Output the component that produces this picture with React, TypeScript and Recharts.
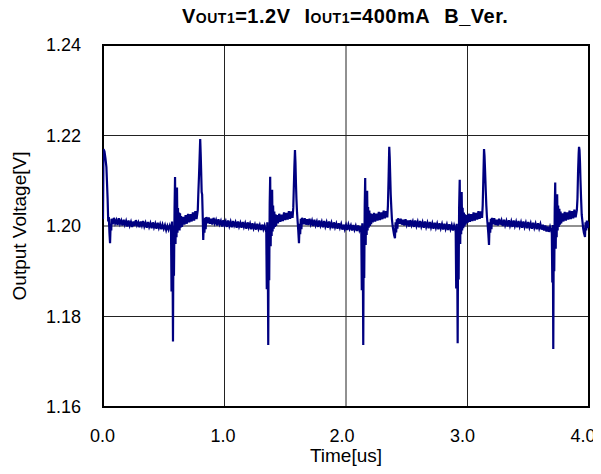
import { LineChart, Line, XAxis, YAxis, CartesianGrid, ReferenceArea, Label } from 'recharts';

type Pt = [number, number];

// time [us], output voltage [V]
const startTail: Pt[] = [
  [0.000, 1.2015], [0.004, 1.2170], [0.012, 1.2165], [0.020, 1.2150], [0.028, 1.2130],
  [0.033, 1.2095], [0.038, 1.2060], [0.043, 1.2010], [0.048, 1.2020], [0.053, 1.1985],
  [0.058, 1.1962], [0.063, 1.2005], [0.068, 1.1990],
];

const flatA: Pt[] = [
  [0.07, 1.2016], [0.08, 1.2004], [0.09, 1.2018], [0.10, 1.2006], [0.11, 1.2013], [0.12, 1.2002],
  [0.13, 1.2017], [0.14, 1.2005], [0.15, 1.2012], [0.16, 1.2001], [0.17, 1.2014], [0.18, 1.2003],
  [0.19, 1.2011], [0.20, 1.1999], [0.21, 1.2012], [0.22, 1.2001], [0.23, 1.2009], [0.24, 1.1998],
  [0.25, 1.2010], [0.26, 1.2000], [0.27, 1.2013], [0.28, 1.2002], [0.29, 1.2008], [0.30, 1.1997],
  [0.31, 1.2010], [0.32, 1.2001], [0.33, 1.2011], [0.34, 1.1999], [0.35, 1.2007], [0.36, 1.1996],
  [0.37, 1.2009], [0.38, 1.1998], [0.39, 1.2006], [0.40, 1.1995], [0.41, 1.2008], [0.42, 1.1997],
  [0.43, 1.2005], [0.44, 1.1994], [0.45, 1.2007], [0.46, 1.1996], [0.47, 1.2004], [0.48, 1.1993],
  [0.49, 1.2003], [0.50, 1.1994], [0.51, 1.2002], [0.52, 1.1991], [0.53, 1.2000], [0.54, 1.1992],
  [0.55, 1.2001], [0.56, 1.1993],
];

const burst1: Pt[] = [
  [0.560, 1.1988], [0.564, 1.1855], [0.568, 1.2010], [0.572, 1.1950], [0.576, 1.1745],
  [0.580, 1.2000], [0.584, 1.1890], [0.589, 1.2040], [0.593, 1.2108], [0.597, 1.1960],
  [0.601, 1.2065], [0.605, 1.1975], [0.609, 1.2085], [0.613, 1.1985], [0.617, 1.2040],
  [0.621, 1.1992], [0.626, 1.2030], [0.630, 1.1990], [0.634, 1.2028], [0.638, 1.1996],
  [0.642, 1.2022], [0.650, 1.1998], [0.660, 1.2020], [0.670, 1.2003], [0.680, 1.2024],
  [0.690, 1.2005], [0.700, 1.2027], [0.710, 1.2008], [0.720, 1.2026], [0.730, 1.2010],
  [0.740, 1.2030], [0.750, 1.2012], [0.760, 1.2033], [0.770, 1.2015], [0.780, 1.2035],
  [0.785, 1.2075], [0.790, 1.2110], [0.795, 1.2150], [0.800, 1.2192], [0.804, 1.2160],
  [0.808, 1.2120], [0.812, 1.2075], [0.816, 1.2070], [0.820, 1.2030], [0.825, 1.1969],
  [0.830, 1.2012], [0.835, 1.1985], [0.840, 1.2018], [0.845, 1.1993], [0.850, 1.2020],
];

const flatB: Pt[] = [
  [0.86, 1.2006], [0.87, 1.2019], [0.88, 1.2005], [0.89, 1.2016], [0.90, 1.2003], [0.91, 1.2018],
  [0.92, 1.2006], [0.93, 1.2013], [0.94, 1.2001], [0.95, 1.2015], [0.96, 1.2004], [0.97, 1.2011],
  [0.98, 1.1999], [0.99, 1.2013], [1.00, 1.2002], [1.01, 1.2010], [1.02, 1.1998], [1.03, 1.2012],
  [1.04, 1.2000], [1.05, 1.2009], [1.06, 1.1997], [1.07, 1.2011], [1.08, 1.2001], [1.09, 1.2008],
  [1.10, 1.1996], [1.11, 1.2010], [1.12, 1.1999], [1.13, 1.2007], [1.14, 1.1996], [1.15, 1.2009],
  [1.16, 1.1998], [1.17, 1.2006], [1.18, 1.1994], [1.19, 1.2008], [1.20, 1.1997], [1.21, 1.2005],
  [1.22, 1.1993], [1.23, 1.2006], [1.24, 1.1995], [1.25, 1.2003], [1.26, 1.1992], [1.27, 1.2005],
  [1.28, 1.1994], [1.29, 1.2002], [1.30, 1.1991], [1.31, 1.2003], [1.32, 1.1993], [1.33, 1.2001],
  [1.34, 1.1990],
];

const burst2: Pt[] = [
  [1.344, 1.1986], [1.348, 1.1860], [1.352, 1.2008], [1.356, 1.1945], [1.360, 1.1737],
  [1.364, 1.1995], [1.368, 1.1880], [1.372, 1.2050], [1.376, 1.2109], [1.380, 1.1955],
  [1.384, 1.2070], [1.388, 1.1978], [1.392, 1.2080], [1.396, 1.1988], [1.400, 1.2045],
  [1.405, 1.1994], [1.410, 1.2032], [1.415, 1.1998], [1.420, 1.2026], [1.425, 1.2000],
  [1.43, 1.2024], [1.44, 1.2006], [1.45, 1.2027], [1.46, 1.2009], [1.47, 1.2025], [1.48, 1.2011],
  [1.49, 1.2030], [1.50, 1.2013], [1.51, 1.2029], [1.52, 1.2014], [1.53, 1.2033], [1.54, 1.2016],
  [1.55, 1.2032], [1.56, 1.2018],
  [1.566, 1.2040], [1.570, 1.2080], [1.575, 1.2130], [1.580, 1.2168], [1.584, 1.2140],
  [1.588, 1.2095], [1.592, 1.2060], [1.597, 1.2030], [1.602, 1.2010], [1.607, 1.1990],
  [1.613, 1.1962], [1.618, 1.2005], [1.623, 1.1982], [1.628, 1.2016], [1.633, 1.1993],
  [1.638, 1.2018],
];

const flatC: Pt[] = [
  [1.65, 1.2004], [1.66, 1.2017], [1.67, 1.2003], [1.68, 1.2015], [1.69, 1.2002], [1.70, 1.2016],
  [1.71, 1.2004], [1.72, 1.2012], [1.73, 1.2000], [1.74, 1.2014], [1.75, 1.2002], [1.76, 1.2010],
  [1.77, 1.1998], [1.78, 1.2012], [1.79, 1.2001], [1.80, 1.2009], [1.81, 1.1997], [1.82, 1.2011],
  [1.83, 1.1999], [1.84, 1.2008], [1.85, 1.1996], [1.86, 1.2010], [1.87, 1.1998], [1.88, 1.2007],
  [1.89, 1.1995], [1.90, 1.2008], [1.91, 1.1997], [1.92, 1.2005], [1.93, 1.1994], [1.94, 1.2006],
  [1.95, 1.1996], [1.96, 1.2004], [1.97, 1.1992], [1.98, 1.2003], [1.99, 1.1993], [2.00, 1.2002],
  [2.01, 1.1991], [2.02, 1.2003], [2.03, 1.1994], [2.04, 1.2001], [2.05, 1.1990], [2.06, 1.2002],
  [2.07, 1.1992], [2.08, 1.2000], [2.09, 1.1989], [2.10, 1.2001], [2.11, 1.1991], [2.12, 1.1999],
];

const burst3: Pt[] = [
  [2.126, 1.1985], [2.130, 1.1858], [2.134, 1.2006], [2.138, 1.1948], [2.142, 1.1737],
  [2.146, 1.1998], [2.150, 1.1885], [2.154, 1.2045], [2.158, 1.2106], [2.162, 1.1958],
  [2.166, 1.2068], [2.170, 1.1980], [2.174, 1.2078], [2.178, 1.1990], [2.182, 1.2042],
  [2.187, 1.1996], [2.192, 1.2034], [2.197, 1.2000], [2.202, 1.2028], [2.207, 1.2004],
  [2.21, 1.2026], [2.22, 1.2008], [2.23, 1.2029], [2.24, 1.2010], [2.25, 1.2027], [2.26, 1.2012],
  [2.27, 1.2031], [2.28, 1.2013], [2.29, 1.2030], [2.30, 1.2015], [2.31, 1.2034], [2.32, 1.2017],
  [2.33, 1.2033], [2.34, 1.2019],
  [2.345, 1.2045], [2.350, 1.2100], [2.356, 1.2175], [2.360, 1.2150], [2.364, 1.2110],
  [2.368, 1.2070], [2.373, 1.2040], [2.378, 1.2015], [2.384, 1.2000], [2.390, 1.1990],
  [2.396, 1.1980], [2.403, 1.1973], [2.408, 1.2008], [2.413, 1.1986], [2.418, 1.2015],
  [2.423, 1.1994], [2.428, 1.2017],
];

const flatD: Pt[] = [
  [2.44, 1.2005], [2.45, 1.2016], [2.46, 1.2003], [2.47, 1.2014], [2.48, 1.2001], [2.49, 1.2015],
  [2.50, 1.2003], [2.51, 1.2012], [2.52, 1.1999], [2.53, 1.2013], [2.54, 1.2002], [2.55, 1.2010],
  [2.56, 1.1998], [2.57, 1.2012], [2.58, 1.2000], [2.59, 1.2009], [2.60, 1.1997], [2.61, 1.2011],
  [2.62, 1.1999], [2.63, 1.2008], [2.64, 1.1996], [2.65, 1.2010], [2.66, 1.1998], [2.67, 1.2007],
  [2.68, 1.1995], [2.69, 1.2009], [2.70, 1.1997], [2.71, 1.2006], [2.72, 1.1994], [2.73, 1.2007],
  [2.74, 1.1996], [2.75, 1.2005], [2.76, 1.1993], [2.77, 1.2006], [2.78, 1.1995], [2.79, 1.2004],
  [2.80, 1.1992], [2.81, 1.2005], [2.82, 1.1994], [2.83, 1.2003], [2.84, 1.1991], [2.85, 1.2004],
  [2.86, 1.1993], [2.87, 1.2002], [2.88, 1.1990], [2.89, 1.2001], [2.90, 1.1992],
];

const burst4: Pt[] = [
  [2.903, 1.1986], [2.907, 1.1862], [2.911, 1.2005], [2.915, 1.1950], [2.919, 1.1741],
  [2.923, 1.1996], [2.927, 1.1882], [2.931, 1.2040], [2.936, 1.2102], [2.940, 1.1960],
  [2.944, 1.2062], [2.948, 1.1982], [2.952, 1.2075], [2.956, 1.1990], [2.960, 1.2040],
  [2.965, 1.1995], [2.970, 1.2030], [2.975, 1.1999], [2.980, 1.2026], [2.985, 1.2003],
  [2.99, 1.2024], [3.00, 1.2007], [3.01, 1.2027], [3.02, 1.2009], [3.03, 1.2026], [3.04, 1.2011],
  [3.05, 1.2030], [3.06, 1.2012], [3.07, 1.2029], [3.08, 1.2014], [3.09, 1.2033], [3.10, 1.2016],
  [3.11, 1.2032], [3.12, 1.2018],
  [3.125, 1.2045], [3.130, 1.2100], [3.136, 1.2170], [3.140, 1.2155], [3.145, 1.2120],
  [3.150, 1.2080], [3.155, 1.2045], [3.160, 1.2020], [3.165, 1.2005], [3.171, 1.1985],
  [3.177, 1.1958], [3.182, 1.2008], [3.187, 1.1985], [3.192, 1.2016], [3.197, 1.1993],
  [3.202, 1.2018],
];

const flatE: Pt[] = [
  [3.21, 1.2004], [3.22, 1.2017], [3.23, 1.2002], [3.24, 1.2014], [3.25, 1.2001], [3.26, 1.2016],
  [3.27, 1.2003], [3.28, 1.2012], [3.29, 1.2000], [3.30, 1.2014], [3.31, 1.2002], [3.32, 1.2011],
  [3.33, 1.1999], [3.34, 1.2013], [3.35, 1.2001], [3.36, 1.2010], [3.37, 1.1998], [3.38, 1.2012],
  [3.39, 1.2000], [3.40, 1.2009], [3.41, 1.1997], [3.42, 1.2011], [3.43, 1.1999], [3.44, 1.2008],
  [3.45, 1.1996], [3.46, 1.2010], [3.47, 1.1998], [3.48, 1.2007], [3.49, 1.1995], [3.50, 1.2009],
  [3.51, 1.1997], [3.52, 1.2006], [3.53, 1.1994], [3.54, 1.2007], [3.55, 1.1996], [3.56, 1.2005],
  [3.57, 1.1993], [3.58, 1.2006], [3.59, 1.1995], [3.60, 1.2004], [3.61, 1.1992], [3.62, 1.2003],
  [3.63, 1.1990], [3.64, 1.2001], [3.65, 1.1988], [3.66, 1.1999], [3.67, 1.1987], [3.68, 1.1998],
  [3.69, 1.1989],
];

const burst5: Pt[] = [
  [3.694, 1.1984], [3.698, 1.1875], [3.702, 1.2002], [3.706, 1.1728], [3.710, 1.1990],
  [3.714, 1.1900], [3.718, 1.2040], [3.722, 1.2096], [3.726, 1.1950], [3.730, 1.2060],
  [3.734, 1.1975], [3.738, 1.2070], [3.742, 1.1990], [3.746, 1.2045], [3.751, 1.1998],
  [3.756, 1.2038], [3.761, 1.2003], [3.766, 1.2032], [3.771, 1.2006],
  [3.78, 1.2028], [3.79, 1.2010], [3.80, 1.2031], [3.81, 1.2012], [3.82, 1.2030], [3.83, 1.2014],
  [3.84, 1.2034], [3.85, 1.2015], [3.86, 1.2033], [3.87, 1.2017], [3.88, 1.2036], [3.89, 1.2019],
  [3.90, 1.2035],
  [3.905, 1.2060], [3.910, 1.2120], [3.915, 1.2160], [3.918, 1.2175], [3.922, 1.2168],
  [3.926, 1.2140], [3.930, 1.2100], [3.935, 1.2060], [3.940, 1.2025], [3.946, 1.2010],
  [3.952, 1.1995], [3.958, 1.1985], [3.963, 1.1980], [3.967, 1.1976], [3.972, 1.2008],
  [3.977, 1.1990], [3.982, 1.2012], [3.987, 1.1995], [3.992, 1.2010], [3.996, 1.1997],
  [4.000, 1.2002],
];

const xTicks = [0, 1, 2, 3, 4];
const yTicks = [1.16, 1.18, 1.2, 1.22, 1.24];

const segments = [startTail, flatA, burst1, flatB, burst2, flatC, burst3, flatD, burst4, flatE, burst5];
const data = segments.flat().map(([t, v]) => ({ t, v }));

const FONT = '"Liberation Sans", Arial, Helvetica, sans-serif';
const sub = { fontSize: 14 };

// the original's x labels sit a little left of their grid lines, more so to the right
const xLabelShift = [0.5, 1.5, 4, 5, 6];

const XTick = (props: any) => {
  const { x, y, payload, index } = props;
  return (
    <text
      x={x - (xLabelShift[index] ?? 0)}
      y={y}
      dy="0.71em"
      textAnchor="middle"
      fill="#000"
      fontSize={18}
      fontFamily={FONT}
    >
      {Number(payload.value).toFixed(1)}
    </text>
  );
};

export default function App() {
  return (
    <div style={{ position: 'relative', width: 593, height: 466, marginBottom: -8, fontFamily: FONT }}>
      <div
        style={{
          position: 'absolute',
          top: -3,
          left: 174,
          fontSize: 20,
          lineHeight: '22px',
          letterSpacing: 0.5,
          fontWeight: 'bold',
          color: '#000',
          whiteSpace: 'nowrap',
        }}
      >
        V<span style={sub}>OUT1</span>=1.2V
        <span style={{ marginLeft: 14 }}>I</span>
        <span style={sub}>OUT1</span>=400mA
        <span style={{ marginLeft: 14 }}>B_Ver.</span>
      </div>
      <LineChart
        width={593}
        height={466}
        data={data}
        margin={{ top: 37, right: 12, left: 0, bottom: 0 }}
      >
        <CartesianGrid stroke="#222" strokeWidth={1} />
        <XAxis
          dataKey="t"
          type="number"
          domain={[0, 4]}
          ticks={xTicks}
          interval={0}
          allowDataOverflow
          tickLine={false}
          tickSize={0}
          tickMargin={22}
          axisLine={false}
          height={67}
          tick={<XTick />}
        >
          <Label value="Time[us]" position="center" dy={15} style={{ fill: '#000', fontSize: 19, fontFamily: FONT }} />
        </XAxis>
        <YAxis
          dataKey="v"
          type="number"
          domain={[1.16, 1.24]}
          ticks={yTicks}
          interval={0}
          allowDataOverflow
          tickFormatter={(v: number) => v.toFixed(2)}
          tickLine={false}
          tickSize={0}
          tickMargin={22}
          axisLine={false}
          width={95}
          tick={{ fill: '#000', fontSize: 18, fontFamily: FONT }}
        >
          <Label
            value="Output Voltage[V]"
            position="center"
            angle={-90}
            dx={-36}
            style={{ fill: '#000', fontSize: 19, fontFamily: FONT, textAnchor: 'middle' }}
          />
        </YAxis>
        <Line
          type="linear"
          dataKey="v"
          stroke="#000080"
          strokeWidth={2.2}
          dot={false}
          isAnimationActive={false}
        />
        <ReferenceArea x1={0} x2={4} y1={1.16} y2={1.24} fill="none" stroke="#000" strokeWidth={2} />
      </LineChart>
    </div>
  );
}
